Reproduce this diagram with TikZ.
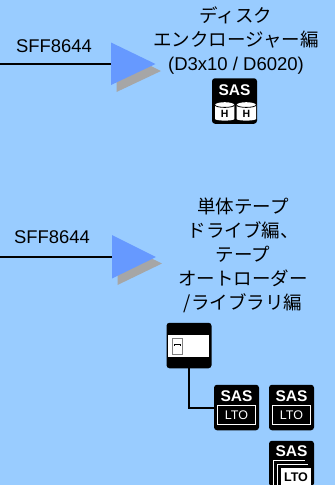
\documentclass[tikz,border=0pt]{standalone}
\usepackage{fontspec}
\setmainfont{Liberation Sans}
\newfontfamily\jpfont{Noto Sans CJK JP}
\definecolor{bgblue}{HTML}{99CCFF}
\definecolor{triblue}{HTML}{6699FF}
\definecolor{shadowgrey}{HTML}{A6A6A6}
\definecolor{slotgrey}{HTML}{808080}
\tikzset{
  px/.style={x=1pt,y=-1pt},
  caption/.style={align=center,inner sep=0pt,font=\fontsize{18.5}{24}\selectfont\jpfont},
  portlabel/.style={inner sep=0pt,font=\fontsize{18.4}{20}\selectfont},
  iconbox/.style={fill=black,rounded corners=3pt,draw=none,minimum width=45pt,minimum height=45.5pt,inner sep=0pt},
  sastext/.style={text=white,inner sep=0pt,font=\fontsize{15.5}{16}\selectfont\bfseries},
  ltotext/.style={text=white,inner sep=0pt,font=\fontsize{12.5}{13}\selectfont},
  hdtext/.style={text=black,inner sep=0pt,font=\fontsize{10.5}{11}\selectfont\bfseries},
  wire/.style={draw=black,line width=2pt},
}
\newcommand{\hdcyl}[2]{%
  \fill[white] (#1-9.7,#2) -- (#1-9.7,#2+14) arc[start angle=180,end angle=360,x radius=9.7,y radius=-1.6] -- (#1+9.7,#2) -- cycle;
  \fill[white] (#1,#2) ellipse[x radius=9.7,y radius=2.8];
  \draw[black,line width=.8pt] (#1-9.7,#2) arc[start angle=180,end angle=360,x radius=9.7,y radius=-2.4];
}
\begin{document}
\begin{tikzpicture}[px]
\useasboundingbox (0,0) rectangle (335,485);
\clip (0,0) rectangle (335,485);
\fill[bgblue] (0,0) rectangle (335,485);
% upper branch
\coordinate (leftA) at (0,63.5);
\coordinate (leftB) at (0,256.5);
\fill[shadowgrey] (116.5,49) -- (161,71) -- (116.5,92) -- cycle;
\node[inner sep=0pt,minimum size=0pt] (tipA) at (111,63.5) {};
\draw[wire] (leftA) -- (tipA.center);
\fill[triblue] (111,42.5) -- (155.5,64) -- (111,85) -- cycle;
\node[portlabel] (labelA) at (54,46.5) {SFF8644};
\node[caption] (capA) at (236,41) {ディスク\\エンクロージャー編\\{\rmfamily (D3x10 / D6020)}};
% SAS HDD icon
\node[iconbox] (iconHH) at (234.5,101) {};
\node[sastext] (sasHH) at (234.5,90.5) {SAS};
\hdcyl{224.7}{105}
\hdcyl{246.3}{105}
\node[hdtext] (h1) at (224.7,114) {H};
\node[hdtext] (h2) at (246.3,114) {H};
% lower branch
\fill[shadowgrey] (117.5,242) -- (162,263.5) -- (117.5,285) -- cycle;
\node[inner sep=0pt,minimum size=0pt] (tipB) at (112,256.5) {};
\draw[wire] (leftB) -- (tipB.center);
\fill[triblue] (112,235) -- (156,257) -- (112,278.5) -- cycle;
\node[portlabel] (labelB) at (52,237.5) {SFF8644};
\node[caption] (capB) at (243,255) {単体テープ\\ドライブ編、\\テープ\\オートローダー\\/ライブラリ編};
% drive box
\node[iconbox] (drive) at (189,345.5) {};
\fill[white] (168,335) rectangle (209,357);
\draw[slotgrey,fill=white,line width=.8pt] (172,338.5) rectangle (182.5,354);
\draw[black,line width=1pt] (174.8,345.5) -- (174.8,344) -- (180,344) -- (180,345.5);
% tape icon 1
\node[iconbox] (lto1) at (236.5,407.5) {};
\node[sastext] (sas1) at (236.5,396) {SAS};
\draw[white,line width=1pt] (217.5,405.5) rectangle (255.5,424.5);
\node[ltotext] (ltoA) at (236.5,415) {LTO};
\coordinate (driveFoot) at (189,407.5);
\draw[wire] (drive.south -| driveFoot) -- (driveFoot) -- (lto1.west);
% tape icon 2
\node[iconbox] (lto2) at (291.5,407.5) {};
\node[sastext] (sas2) at (291.5,396) {SAS};
\draw[white,line width=1pt] (272.5,405.5) rectangle (310.5,424.5);
\node[ltotext] (ltoB) at (291.5,415) {LTO};
% tape icon 3 (library)
\node[iconbox] (lto3) at (291.5,463.5) {};
\node[sastext] (sas3) at (291.5,451.5) {SAS};
\draw[white,line width=.7pt] (273,490) -- (273,460.5) -- (305,460.5);
\draw[white,line width=.7pt] (277,490) -- (277,464) -- (308,464);
\fill[white] (281,467.5) rectangle (311,487);
\node[text=black,inner sep=0pt,font=\fontsize{12.5}{13}\selectfont\bfseries] (ltoC) at (296,477) {LTO};
\end{tikzpicture}
\end{document}
